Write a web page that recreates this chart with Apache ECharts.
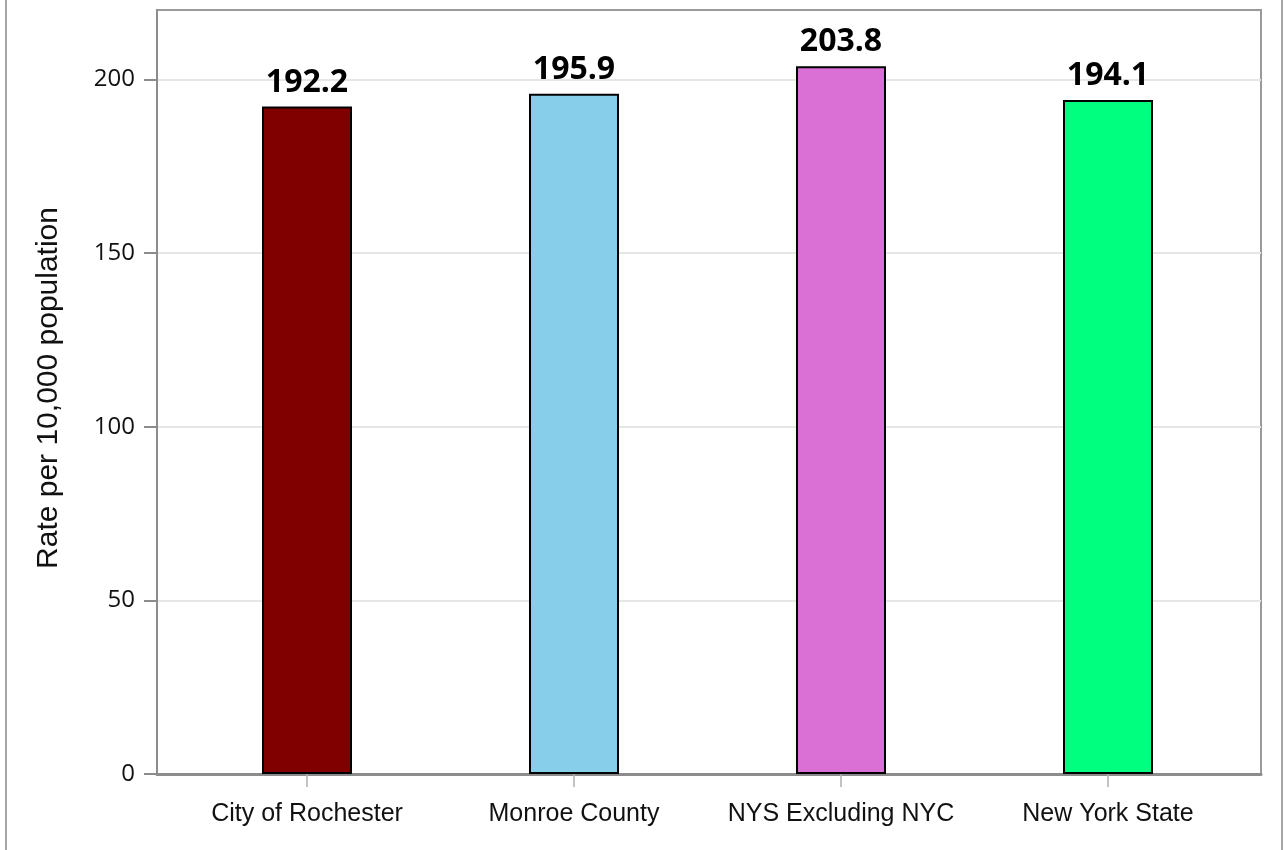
<!DOCTYPE html>
<html>
<head>
<meta charset="utf-8">
<script src="https://cdn.jsdelivr.net/npm/echarts@6/dist/echarts.min.js"></script>
<style>
html,body{margin:0;padding:0;background:#fff;}
#chart{width:1284px;height:850px;}
</style>
</head>
<body>
<div id="chart"></div>
<script>
const categories = ['City of Rochester', 'Monroe County', 'NYS Excluding NYC', 'New York State'];
const values = [192.2, 195.9, 203.8, 194.1];
const yTicks = [0, 50, 100, 150, 200];
const barColors = ['#800000', '#87CEEB', '#DA70D6', '#00FF7F'];

const chart = echarts.init(document.getElementById('chart'));
const Y_MAX = 220;
const option = {
  backgroundColor: '#ffffff',
  animation: false,
  graphic: [
    { type: 'line', shape: { x1: 6, y1: 0, x2: 6, y2: 850 }, style: { stroke: '#a6a6a6', lineWidth: 2 } },
    { type: 'line', shape: { x1: 1282, y1: 0, x2: 1282, y2: 850 }, style: { stroke: '#a6a6a6', lineWidth: 2 } }
  ],
  grid: [
    { left: 157, right: 23, top: 10, bottom: 76, show: true, borderColor: '#9a9a9a', borderWidth: 2, backgroundColor: 'transparent' },
    { left: 173.5, right: 42.5, top: 10, bottom: 76 }
  ],
  xAxis: [
    { type: 'category', gridIndex: 0, data: categories, boundaryGap: true,
      axisLine: { show: true, lineStyle: { color: '#8c8c8c', width: 3 } },
      axisTick: { show: false }, axisLabel: { show: false }, splitLine: { show: false } },
    { type: 'category', gridIndex: 1, data: categories, boundaryGap: true,
      axisLine: { show: false },
      axisTick: { show: true, alignWithLabel: true, length: 13, lineStyle: { color: '#b0b0b0', width: 1.5 } },
      axisLabel: { margin: 28, color: '#111', fontSize: 25, fontFamily: 'Liberation Sans, Arial, sans-serif', interval: 0 } }
  ],
  yAxis: [
    { type: 'value', gridIndex: 0, min: 0, max: Y_MAX, interval: 50,
      name: 'Rate per 10,000 population', nameLocation: 'middle', nameGap: 93,
      nameTextStyle: { fontSize: 30, color: '#111', fontFamily: 'Liberation Sans, Arial, sans-serif', padding: [0, 0, 0, 8] },
      axisLine: { show: true, lineStyle: { color: '#8c8c8c', width: 2 } },
      axisTick: { show: true, length: 13, customValues: yTicks, lineStyle: { color: '#8c8c8c', width: 2 } },
      axisLabel: { margin: 22, fontSize: 24, color: '#111', fontFamily: 'Open Sans, sans-serif', customValues: yTicks },
      splitLine: { show: true, lineStyle: { color: '#e6e6e6', width: 2 } } },
    { type: 'value', gridIndex: 1, min: 0, max: Y_MAX, interval: 50,
      axisLine: { show: false }, axisTick: { show: false }, axisLabel: { show: false }, splitLine: { show: false } }
  ],
  series: [{
    type: 'bar',
    xAxisIndex: 1, yAxisIndex: 1,
    barWidth: 90,
    data: values.map((v, i) => ({ value: v, itemStyle: { color: barColors[i] } })),
    itemStyle: { borderColor: '#000', borderWidth: 2 },
    label: { show: true, position: 'top', distance: 8, fontSize: 32, fontWeight: 'bold', color: '#000',
      fontFamily: 'Open Sans, sans-serif', formatter: p => p.value.toFixed(1) }
  }]
};
chart.setOption(option);
</script>
</body>
</html>
